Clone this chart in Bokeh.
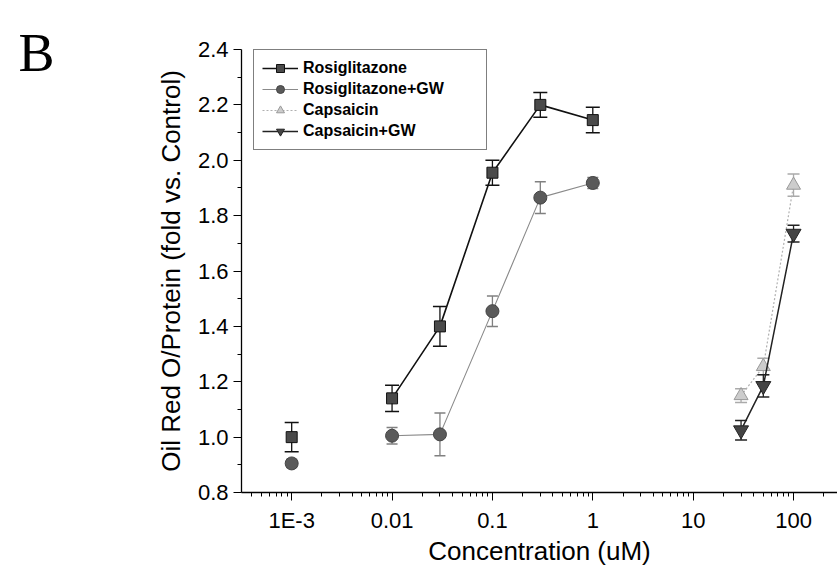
from bokeh.plotting import figure
from bokeh.models import (ColumnDataSource, Whisker, TeeHead, FixedTicker, CustomJSTickFormatter,
                          PrintfTickFormatter, Legend, LegendItem, Label)
from bokeh.embed import file_html
from bokeh.resources import INLINE

# ---- data ----
ros_x = [0.001, 0.01, 0.03, 0.1, 0.3, 1.0]
ros_y = [1.00, 1.14, 1.40, 1.955, 2.20, 2.145]
ros_err = [0.053, 0.047, 0.072, 0.045, 0.045, 0.046]

rosgw_x = [0.001, 0.01, 0.03, 0.1, 0.3, 1.0]
rosgw_y = [0.905, 1.005, 1.01, 1.455, 1.865, 1.918]
rosgw_err = [0.015, 0.03, 0.077, 0.055, 0.057, 0.02]

cap_x = [30, 50, 100]
cap_y = [1.15, 1.255, 1.91]
cap_err = [0.025, 0.03, 0.04]

capgw_x = [30, 50, 100]
capgw_y = [1.025, 1.185, 1.735]
capgw_err = [0.035, 0.04, 0.03]

x_ticks = [0.001, 0.01, 0.1, 1, 10, 100]
x_tick_labels = ["1E-3", "0.01", "0.1", "1", "10", "100"]
y_ticks = [0.8, 1.0, 1.2, 1.4, 1.6, 1.8, 2.0, 2.2, 2.4]
y_minor = [0.9, 1.1, 1.3, 1.5, 1.7, 1.9, 2.1, 2.3]
x_minor = [m * 10.0 ** d for d in range(-4, 3) for m in range(2, 10)]

series_names = ["Rosiglitazone", "Rosiglitazone+GW", "Capsaicin", "Capsaicin+GW"]
panel_letter = "B"

FONT = "Liberation Sans"

p = figure(width=837, height=574, x_axis_type="log",
           x_range=(10 ** -3.5, 10 ** 2.438), y_range=(0.8, 2.4),
           output_backend="svg", toolbar_location=None,
           min_border_left=241, min_border_right=0, min_border_top=49, min_border_bottom=82)
p.grid.visible = False
p.outline_line_color = None
p.background_fill_color = "white"
p.border_fill_color = "white"

# axes
xa = p.xaxis[0]
xa.ticker = FixedTicker(ticks=x_ticks, minor_ticks=x_minor)
xa.formatter = CustomJSTickFormatter(args=dict(tvals=x_ticks, labs=x_tick_labels), code="""
  for (let i = 0; i < tvals.length; i++) {
    if (Math.abs(Math.log10(tvals[i]) - Math.log10(tick)) < 1e-6) return labs[i];
  }
  return '';
""")
ya = p.yaxis[0]
ya.ticker = FixedTicker(ticks=y_ticks, minor_ticks=y_minor)
ya.formatter = PrintfTickFormatter(format="%.1f")
for ax in (xa, ya):
    ax.axis_line_color = "black"
    ax.axis_line_width = 1.3
    ax.major_tick_in = 0
    ax.major_tick_out = 8
    ax.minor_tick_in = 0
    ax.minor_tick_out = 4
    ax.major_tick_line_color = "black"
    ax.minor_tick_line_color = "black"
    ax.major_label_text_font = FONT
    ax.major_label_text_font_size = "22px"
    ax.major_label_text_color = "black"
    ax.axis_label_text_font = FONT
    ax.axis_label_text_font_size = "26px"
    ax.axis_label_text_font_style = "normal"
    ax.axis_label_text_color = "black"
xa.axis_label = "Concentration (uM)"
ya.axis_label = "Oil Red O/Protein (fold vs. Control)"
xa.major_label_standoff = 7
ya.major_label_standoff = 5
xa.axis_label_standoff = 0
ya.axis_label_standoff = 9

def add_err(xs, ys, errs, color, cap):
    src = ColumnDataSource(dict(x=xs, lower=[y - e for y, e in zip(ys, errs)],
                                upper=[y + e for y, e in zip(ys, errs)]))
    w = Whisker(base="x", lower="lower", upper="upper", source=src, dimension="height",
                line_color=color, line_width=1.3, level="underlay",
                upper_head=TeeHead(size=cap, line_color=color, line_width=1.5),
                lower_head=TeeHead(size=cap, line_color=color, line_width=1.5))
    p.add_layout(w)

# Rosiglitazone
add_err(ros_x, ros_y, ros_err, "#111111", 14)
l1 = p.line(ros_x[1:], ros_y[1:], line_color="#111111", line_width=1.6)
m1 = p.scatter(ros_x, ros_y, marker="square", size=11, fill_color="#4a4a4a", line_color="#111111")

# Rosiglitazone+GW
add_err(rosgw_x, rosgw_y, rosgw_err, "#808080", 11)
l2 = p.line(rosgw_x[1:], rosgw_y[1:], line_color="#8a8a8a", line_width=1.1)
m2 = p.scatter(rosgw_x, rosgw_y, marker="circle", size=13, fill_color="#5a5a5a", line_color="#444444")

# Capsaicin
add_err(cap_x, cap_y, cap_err, "#aaaaaa", 12)
l3 = p.line(cap_x, cap_y, line_color="#b0b0b0", line_width=1.2, line_dash="2 2")
m3 = p.scatter(cap_x, cap_y, marker="triangle", size=14, fill_color="#cccccc", line_color="#999999")

# Capsaicin+GW
add_err(capgw_x, capgw_y, capgw_err, "#222222", 12)
l4 = p.line(capgw_x, capgw_y, line_color="#222222", line_width=1.5)
m4 = p.scatter(capgw_x, capgw_y, marker="inverted_triangle", size=15, fill_color="#444444", line_color="#222222")

legend = Legend(items=[LegendItem(label=series_names[0], renderers=[l1, m1]),
                       LegendItem(label=series_names[1], renderers=[l2, m2]),
                       LegendItem(label=series_names[2], renderers=[l3, m3]),
                       LegendItem(label=series_names[3], renderers=[l4, m4])],
                location=(12, 342), orientation="vertical",
                border_line_color="black", border_line_width=1.2,
                background_fill_alpha=1.0, padding=8, spacing=1,
                label_height=20, glyph_height=20, glyph_width=36, label_standoff=5,
                label_width=175, margin=0,
                label_text_font=FONT, label_text_font_size="16px",
                label_text_font_style="bold", label_text_color="black")
p.add_layout(legend, "center")

# panel letter, placed in the left side panel so it is not clipped to the frame
p.add_layout(Label(x=10 ** -5.722, y=2.3856, x_units="data", y_units="data", text=panel_letter,
                   text_font="Liberation Serif", text_font_size="54px", text_color="black",
                   text_baseline="alphabetic", text_align="left"), "left")

open("out.html", "w").write(file_html(p, INLINE))
